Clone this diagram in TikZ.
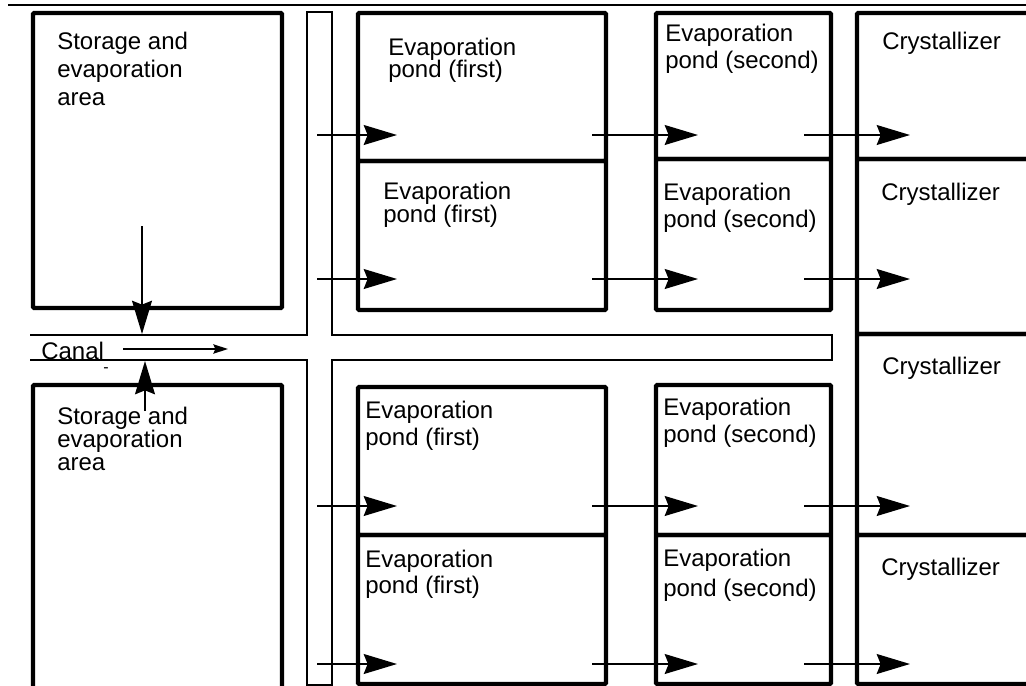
\documentclass[tikz,border=0pt]{standalone}
\usepackage{fontspec}
\setmainfont{Liberation Sans}
\usetikzlibrary{arrows.meta,fit}
\lineskiplimit=-20pt

\begin{document}
\begin{tikzpicture}[x=0.75pt, y=-0.75pt,
  pond/.style={draw, line width=3.3pt, rounded corners=1pt, inner sep=0pt, outer sep=0pt},
  canal/.style={line width=1.1pt},
  lbl/.style={anchor=base west, inner sep=0pt, align=left, font=\fontsize{18}{#1}\selectfont},
  lbl/.default=20pt,
  flow/.style={-{Stealth[length=25pt, width=15pt, inset=3pt]}, line width=1.1pt},
  sflow/.style={-{Stealth[length=11pt, width=7pt, inset=1.5pt]}, line width=1.1pt},
]
\useasboundingbox (0,0) rectangle (1026,686);

% ===== top rule =====
\coordinate (tl) at (8,5);
\coordinate (tr) at (1026,5);
\draw[line width=1.5pt] (tl) -- (tr);

% ===== storage and evaporation areas (labels sit on their last line) =====
\node[pond, fit={(33,13) (282,308)}] (sa1) {};
\node[pond, fit={(33,385) (282,700)}] (sa2) {};
\node[lbl=21pt] (sa1t) at (57,105) {Storage and\\evaporation\\area};
\node[lbl=17pt] (sa2t) at (57,470) {Storage and\\evaporation\\area};

% ===== canals (one outline) =====
\draw[canal] (30,335) -| (307,12) -| (332,335) -| (832,360) -| (332,685) -| (307,360) -- (30,360);
\node[lbl] (canal) at (41,359) {Canal};
\node[font=\fontsize{12}{12}\selectfont, inner sep=0pt] (dash) at (106,370) {-};

% ===== evaporation ponds (first) =====
\node[pond, fit={(358,13) (606,161)}] (pf1) {};
\node[pond, fit={(358,161) (606,310)}] (pf2) {};
\node[pond, fit={(358,387) (606,535)}] (pf3) {};
\node[pond, fit={(358,535) (606,684)}] (pf4) {};
\node[lbl=16.5pt] (pf1t) at (388,77) {Evaporation\\pond (first)};
\node[lbl=17pt] (pf2t) at (383,222) {Evaporation\\pond (first)};
\node[lbl=20pt] (pf3t) at (365,445) {Evaporation\\pond (first)};
\node[lbl=19pt] (pf4t) at (365,593) {Evaporation\\pond (first)};

% ===== evaporation ponds (second) =====
\node[pond, fit={(656,13) (831,159)}] (ps1) {};
\node[pond, fit={(656,159) (831,310)}] (ps2) {};
\node[pond, fit={(656,385) (831,535)}] (ps3) {};
\node[pond, fit={(656,535) (831,684)}] (ps4) {};
\node[lbl] (ps1t) at (665,68) {Evaporation\\pond (second)};
\node[lbl] (ps2t) at (663,227) {Evaporation\\pond (second)};
\node[lbl] (ps3t) at (663,442) {Evaporation\\pond (second)};
\node[lbl=22pt] (ps4t) at (663,596) {Evaporation\\pond (second)};

% ===== crystallizers =====
\node[pond, fit={(857,13) (1040,159)}] (cr1) {};
\node[pond, fit={(857,159) (1040,334)}] (cr2) {};
\node[pond, fit={(857,334) (1040,535)}] (cr3) {};
\node[pond, fit={(857,535) (1040,684)}] (cr4) {};
\node[lbl] (cr1t) at (882,49) {Crystallizer};
\node[lbl] (cr2t) at (881,200) {Crystallizer};
\node[lbl] (cr3t) at (882,374) {Crystallizer};
\node[lbl] (cr4t) at (881,575) {Crystallizer};

% ===== flow through the ponds =====
\foreach \r/\y in {1/135, 2/279, 3/506, 4/664} {
  \coordinate (in\r) at (317,\y);
  \coordinate (f\r) at (397,\y);
  \coordinate (fo\r) at (592,\y);
  \coordinate (s\r) at (698,\y);
  \coordinate (so\r) at (804,\y);
  \coordinate (c\r) at (910,\y);
  \draw[flow] (in\r) -- (f\r);
  \draw[flow] (fo\r) -- (s\r);
  \draw[flow] (so\r) -- (c\r);
}

% ===== storage <-> canal =====
\coordinate (d1) at (142,226);
\coordinate (d2) at (142,334);
\draw[flow] (d1) -- (d2);
\coordinate (u1) at (145,411);
\coordinate (u2) at (145,361);
\draw[flow] (u1) -- (u2);
\coordinate (cs) at (123,349);
\coordinate (ce) at (228,349);
\draw[sflow] (cs) -- (ce);

\end{tikzpicture}
\end{document}
